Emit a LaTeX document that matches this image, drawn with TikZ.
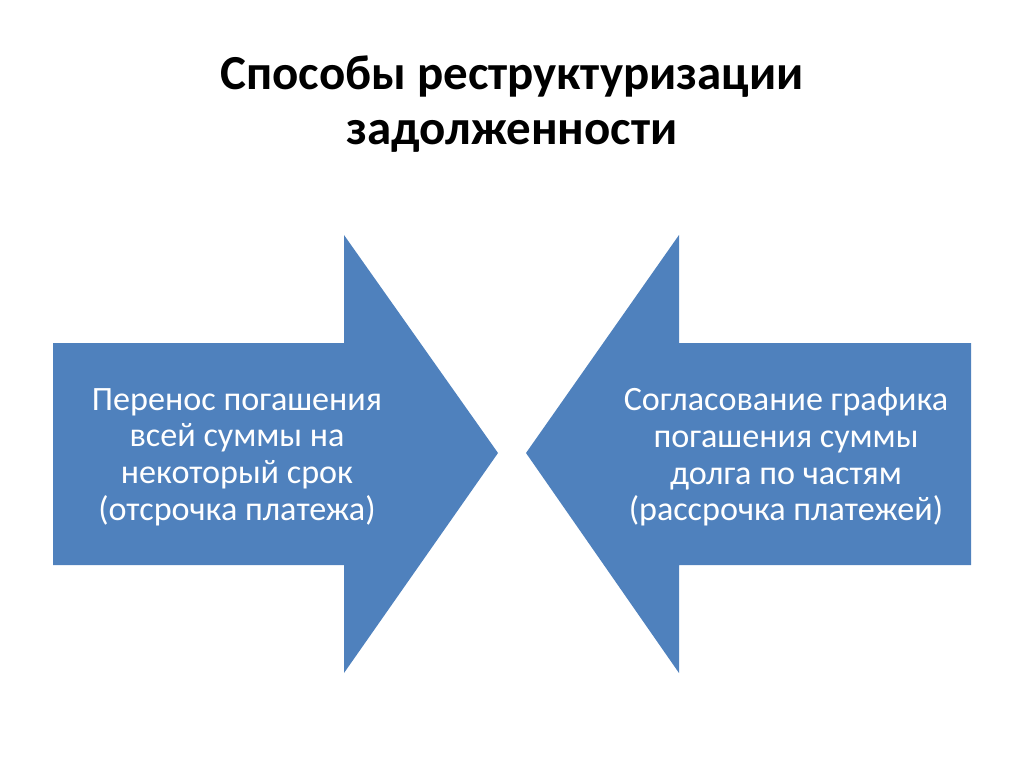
\documentclass[tikz,border=0pt]{standalone}
\usepackage{fontspec}
\setmainfont{Carlito}
\usepackage{xcolor}
\usetikzlibrary{positioning}

\definecolor{arrowblue}{HTML}{4F81BD}

\tikzset{
    arrowfill/.style={fill=arrowblue},
    arrowtext/.style={text=white, align=center, font=\fontsize{24}{25.8}\selectfont},
    titletext/.style={align=center, font=\bfseries\fontsize{34.4}{38.7}\selectfont}
}

\begin{document}
\begin{tikzpicture}[x=0.703125pt,y=-0.703125pt]
    \useasboundingbox (0,0) rectangle (1024,768);
    % title
    \node[titletext] (title) at (512,104) {Способы реструктуризации\\задолженности};
    % left arrow
    \fill[arrowfill] (53,343) -- (344,343) -- (344,235) -- (498,453)
        -- (344,673) -- (344,565) -- (53,565) -- cycle;
    \node[arrowtext] (postpone) at (237,457) {Перенос погашения\\всей суммы на\\некоторый срок\\(отсрочка платежа)};
    % right arrow
    \fill[arrowfill] (971,343) -- (679,343) -- (679,235) -- (526,453)
        -- (679,673) -- (679,565) -- (971,565) -- cycle;
    \node[arrowtext] (schedule) at (786,457) {Согласование графика\\погашения суммы\\долга по частям\\(рассрочка платежей)};
\end{tikzpicture}
\end{document}
